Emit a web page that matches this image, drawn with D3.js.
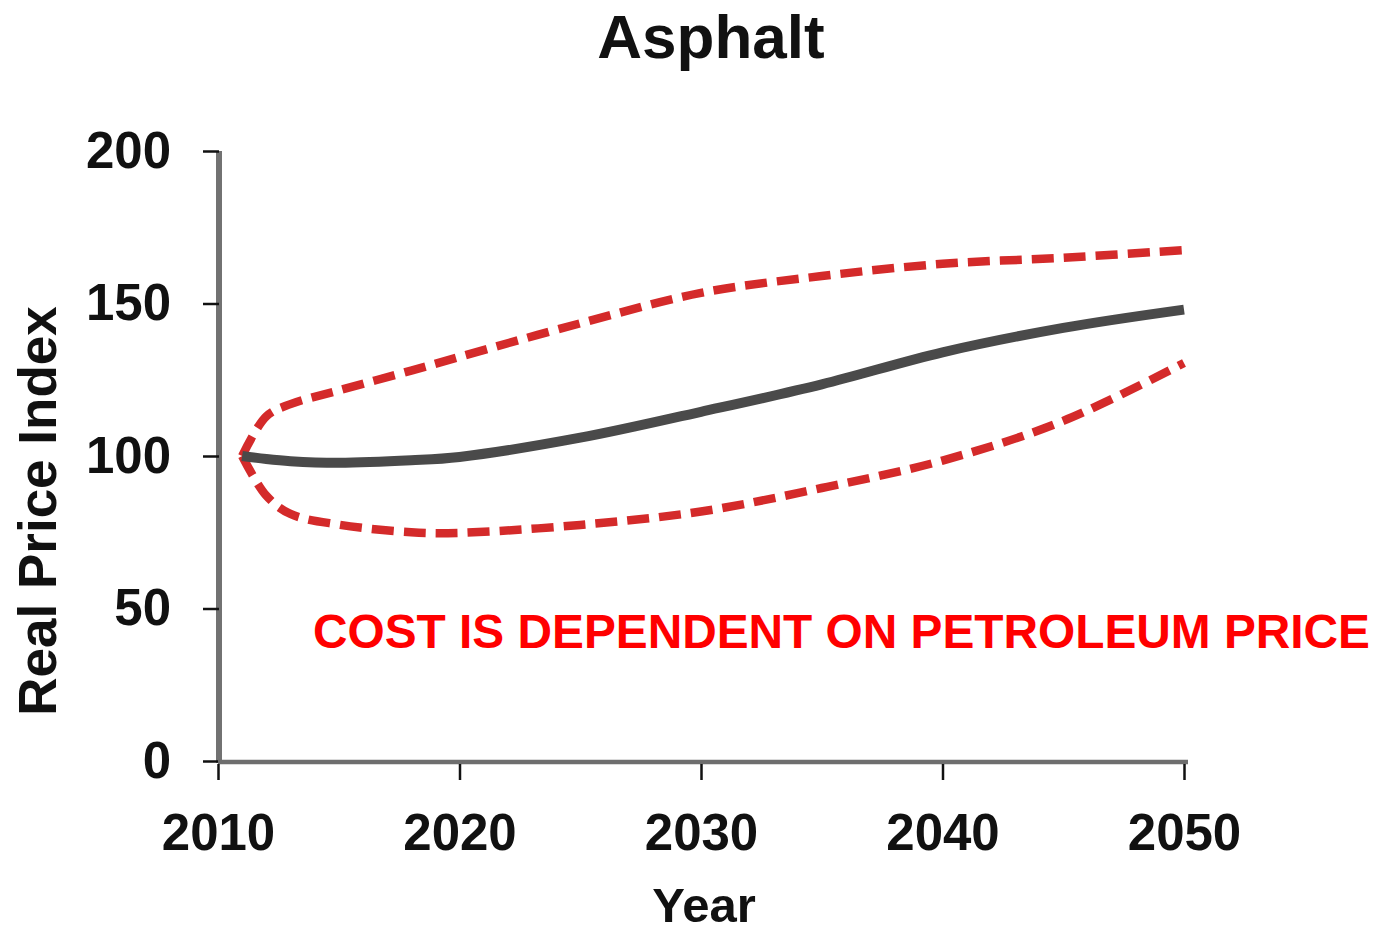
<!DOCTYPE html>
<html>
<head>
<meta charset="utf-8">
<script src="https://cdn.jsdelivr.net/npm/d3@7"></script>
<style>
  body { margin: 0; background: #fff; }
  text { font-family: 'Liberation Sans', Arial, sans-serif; font-weight: bold; }
</style>
</head>
<body>
<script>
// values
const years   = [2011, 2012, 2013, 2015, 2018, 2020, 2025, 2030, 2035, 2040, 2045, 2050];
const central = [100, 99, 98.3, 97.8, 98.6, 99.7, 106, 114.5, 123.5, 134, 142, 148];
const upper   = [100, 113, 117, 121.5, 128, 132.5, 143.5, 153.5, 159, 163, 165, 167.5];
const lower   = [100, 87, 81, 77.5, 75, 74.8, 77.4, 81.8, 89.5, 98.5, 111.5, 130.5];
const xTicks  = [2010, 2020, 2030, 2040, 2050];
const yTicks  = [0, 50, 100, 150, 200];

const width = 1379, height = 934;

const x = d3.scaleLinear().domain([2010, 2050]).range([218, 1184]);
const y = d3.scaleLinear().domain([0, 200]).range([761, 151]);

const svg = d3.select('body').append('svg')
  .attr('width', width)
  .attr('height', height);

// title
svg.append('text')
  .attr('x', 711).attr('y', 58)
  .attr('text-anchor', 'middle')
  .attr('font-size', 62)
  .attr('fill', '#111')
  .text('Asphalt');

// y axis
const yAxis = svg.append('g')
  .attr('transform', `translate(${x(2010) + 1},0)`)
  .call(d3.axisLeft(y).tickValues(yTicks).tickSize(16).tickSizeOuter(0).tickPadding(32));
yAxis.select('.domain').attr('stroke', '#727272').attr('stroke-width', 6)
  .attr('d', `M0,${y(0) + 2}V${y(200)}`);
yAxis.selectAll('.tick line').attr('stroke', '#111').attr('stroke-width', 2.5);
yAxis.selectAll('.tick text')
  .attr('font-size', 51).attr('fill', '#111')
  .attr('font-family', "'Liberation Sans', Arial, sans-serif").attr('font-weight', 'bold');

// x axis
const xAxis = svg.append('g')
  .attr('transform', `translate(0,${y(0) + 1})`)
  .call(d3.axisBottom(x).tickValues(xTicks).tickFormat(d3.format('d')).tickSize(16).tickSizeOuter(0));
xAxis.select('.domain').attr('stroke', '#6e6e6e').attr('stroke-width', 4.5)
  .attr('d', `M${x(2010)},0H${x(2050) + 4}`);
xAxis.selectAll('.tick line').attr('stroke', '#111').attr('stroke-width', 2.5)
  .attr('y1', 2).attr('y2', 18);
xAxis.selectAll('.tick text')
  .attr('font-size', 51).attr('fill', '#111')
  .attr('y', 88).attr('dy', 0)
  .attr('font-family', "'Liberation Sans', Arial, sans-serif").attr('font-weight', 'bold');

// axis titles
svg.append('text')
  .attr('x', 704).attr('y', 922)
  .attr('text-anchor', 'middle')
  .attr('font-size', 49)
  .attr('fill', '#111')
  .text('Year');

svg.append('text')
  .attr('transform', 'translate(56,511) rotate(-90)')
  .attr('text-anchor', 'middle')
  .attr('font-size', 53)
  .attr('fill', '#111')
  .text('Real Price Index');

// lines
const line = d3.line()
  .x(d => x(d[0]))
  .y(d => y(d[1]))
  .curve(d3.curveCatmullRom.alpha(0.5));

svg.append('path')
  .datum(years.map((yr, i) => [yr, upper[i]]))
  .attr('d', line)
  .attr('fill', 'none')
  .attr('stroke', '#d42a2a')
  .attr('stroke-width', 8.5)
  .attr('stroke-dasharray', '22 10');

svg.append('path')
  .datum(years.map((yr, i) => [yr, lower[i]]))
  .attr('d', line)
  .attr('fill', 'none')
  .attr('stroke', '#d42a2a')
  .attr('stroke-width', 8.5)
  .attr('stroke-dasharray', '22 10');

svg.append('path')
  .datum(years.map((yr, i) => [yr, central[i]]))
  .attr('d', line)
  .attr('fill', 'none')
  .attr('stroke', '#4a4a4a')
  .attr('stroke-width', 10);

// note
svg.append('text')
  .attr('x', 313).attr('y', 648)
  .attr('font-size', 48)
  .attr('fill', '#ff0000')
  .attr('textLength', 1057)
  .attr('lengthAdjust', 'spacingAndGlyphs')
  .text('COST IS DEPENDENT ON PETROLEUM PRICE');
</script>
</body>
</html>
